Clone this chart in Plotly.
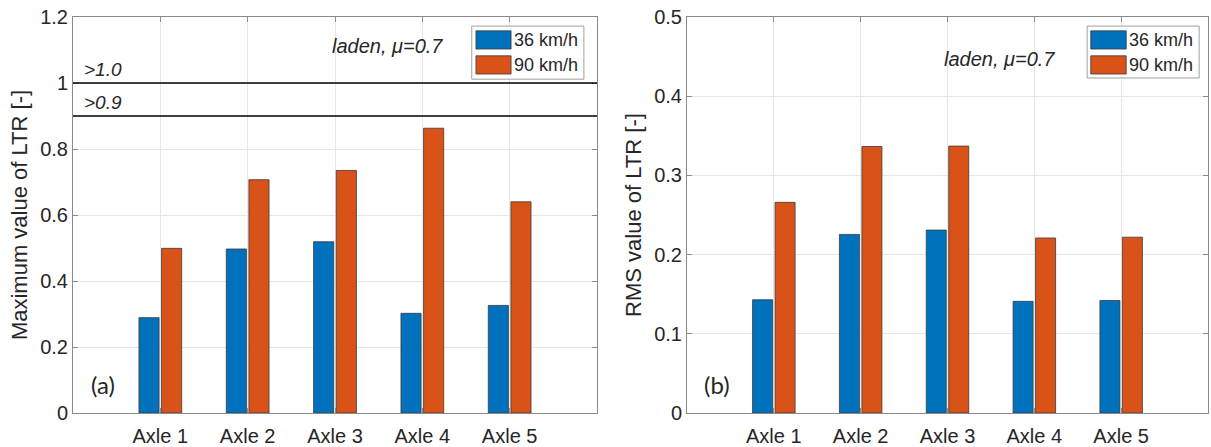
import plotly.graph_objects as go

# ---- data ----
axles = ["Axle 1", "Axle 2", "Axle 3", "Axle 4", "Axle 5"]
axle_pos = [1, 2, 3, 4, 5]
speeds = ["36 km/h", "90 km/h"]
max_ltr_36 = [0.289, 0.497, 0.519, 0.302, 0.326]
max_ltr_90 = [0.499, 0.707, 0.735, 0.863, 0.640]
rms_ltr_36 = [0.143, 0.2255, 0.231, 0.141, 0.142]
rms_ltr_90 = [0.266, 0.3365, 0.337, 0.221, 0.222]
left_yticks = [0, 0.2, 0.4, 0.6, 0.8, 1, 1.2]
left_yticklabels = ["0", "0.2", "0.4", "0.6", "0.8", "1", "1.2"]
right_yticks = [0, 0.1, 0.2, 0.3, 0.4, 0.5]
right_yticklabels = ["0", "0.1", "0.2", "0.3", "0.4", "0.5"]
thresholds = [1.0, 0.9]
threshold_labels = [">1.0", ">0.9"]
condition_label = "<i>laden, μ=0.7</i>"
panel_labels = ["(a)", "(b)"]

BLUE = "#0072BD"
ORANGE = "#D95319"
FONT = "Liberation Sans, Arial, sans-serif"

W, H = 1211, 447

fig = go.Figure()

series = [
    ("x", "y", max_ltr_36, max_ltr_90),
    ("x2", "y2", rms_ltr_36, rms_ltr_90),
]
for xa, ya, v36, v90 in series:
    for name, vals, col in [(speeds[0], v36, BLUE), (speeds[1], v90, ORANGE)]:
        fig.add_trace(go.Bar(
            x=axle_pos, y=vals, name=name, xaxis=xa, yaxis=ya,
            marker=dict(color=col, line=dict(color="#3a3a3a", width=0.8)),
            showlegend=False, offsetgroup=name,
        ))

axis_common = dict(
    showline=True, linecolor="#8a8a8a", linewidth=1, mirror="ticks",
    ticks="inside", ticklen=5, tickcolor="#8a8a8a", automargin=False,
    ticklabeloverflow="allow",
    showgrid=True, gridcolor="#e6e6e6", gridwidth=1, zeroline=False,
    tickfont=dict(family=FONT, size=20, color="#262626"),
)

xcommon = dict(axis_common, range=[0, 6], tickmode="array",
               tickvals=axle_pos, ticktext=axles, ticklabelstandoff=5)

ydom = [34 / H, 430 / H]

fig.update_layout(
    width=W, height=H,
    margin=dict(l=0, r=0, t=0, b=0),
    paper_bgcolor="white", plot_bgcolor="white",
    barmode="group", bargap=0.482, bargroupgap=0.11,
    showlegend=False,
    xaxis=dict(xcommon, domain=[73 / W, 597 / W], anchor="y"),
    xaxis2=dict(xcommon, domain=[687 / W, 1208 / W], anchor="y2"),
    yaxis=dict(axis_common, domain=ydom, anchor="x",
               range=[0, 1.2], tickmode="array", tickvals=left_yticks,
               ticktext=left_yticklabels,
               title=dict(text="Maximum value of LTR [-]", standoff=6,
                          font=dict(family=FONT, size=22, color="#262626"))),
    yaxis2=dict(axis_common, domain=ydom, anchor="x2",
                range=[0, 0.5], tickmode="array", tickvals=right_yticks,
                ticktext=right_yticklabels,
                title=dict(text="RMS value of LTR [-]", standoff=6,
                           font=dict(family=FONT, size=22, color="#262626"))),
)

# threshold lines on panel (a)
for t, lab in zip(thresholds, threshold_labels):
    fig.add_shape(type="line", xref="x domain", yref="y", x0=0, x1=1, y0=t, y1=t,
                  line=dict(color="black", width=1.6))
    fig.add_annotation(xref="x domain", yref="y", x=0.017, y=t, text=f"<i>{lab}</i>",
                       xanchor="left", yanchor="bottom", showarrow=False, yshift=1,
                       font=dict(family=FONT, size=19, color="#262626"))

# condition label + panel letters
for xr, yr, cy, plabel in [("x domain", "y domain", 0.927, panel_labels[0]),
                           ("x2 domain", "y2 domain", 0.894, panel_labels[1])]:
    fig.add_annotation(xref=xr, yref=yr, x=0.6, y=cy, text=condition_label,
                       showarrow=False, xanchor="center", yanchor="middle",
                       font=dict(family=FONT, size=20, color="#262626"))
    fig.add_annotation(xref=xr, yref=yr, x=0.057, y=0.071, text=plabel,
                       showarrow=False, xanchor="center", yanchor="middle",
                       font=dict(family="Lato, Carlito, sans-serif", size=24, color="#262626"))

# legends (drawn as boxes in axis-domain coordinates)
def add_legend(xr, yr, bx0, bx1, by0, by1, sx0, sx1, rows, tx):
    fig.add_shape(type="rect", xref=xr, yref=yr, x0=bx0, x1=bx1, y0=by0, y1=by1,
                  line=dict(color="#a0a0a0", width=1), fillcolor="white", layer="above")
    for (ry0, ry1), name, col in zip(rows, speeds, [BLUE, ORANGE]):
        fig.add_shape(type="rect", xref=xr, yref=yr, x0=sx0, x1=sx1, y0=ry0, y1=ry1,
                      line=dict(color="#3a3a3a", width=0.8), fillcolor=col, layer="above")
        fig.add_annotation(xref=xr, yref=yr, x=tx, y=(ry0 + ry1) / 2, text=name,
                           showarrow=False, xanchor="left", yanchor="middle",
                           font=dict(family=FONT, size=18, color="#262626"))

rows = [(0.919, 0.965), (0.856, 0.902)]
add_legend("x domain", "y domain", 0.761, 0.975, 0.843, 0.977, 0.769, 0.836, rows, 0.838)
add_legend("x2 domain", "y2 domain", 0.768, 0.983, 0.846, 0.977, 0.775, 0.843, rows, 0.845)

fig.write_html("out.html",
               config={"displayModeBar": False},
               post_script="document.body.style.margin='0';document.body.style.overflow='hidden';")
